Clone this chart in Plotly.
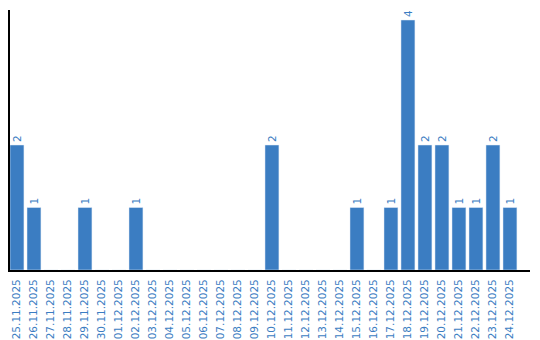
import plotly.graph_objects as go

dates = ["25.11.2025", "26.11.2025", "27.11.2025", "28.11.2025", "29.11.2025", "30.11.2025",
         "01.12.2025", "02.12.2025", "03.12.2025", "04.12.2025", "05.12.2025", "06.12.2025",
         "07.12.2025", "08.12.2025", "09.12.2025", "10.12.2025", "11.12.2025", "12.12.2025",
         "13.12.2025", "14.12.2025", "15.12.2025", "16.12.2025", "17.12.2025", "18.12.2025",
         "19.12.2025", "20.12.2025", "21.12.2025", "22.12.2025", "23.12.2025", "24.12.2025"]
counts = [2, 1, 0, 0, 1, 0, 0, 1, 0, 0, 0, 0, 0, 0, 0, 2, 0, 0, 0, 0, 1, 0, 1, 4, 2, 2, 1, 1, 2, 1]

blue = "#3b7dc2"
labels = [str(v) if v > 0 else "" for v in counts]

fig = go.Figure(go.Bar(
    x=list(range(len(dates))), y=counts, marker_color=blue,
    text=labels, textposition="outside", textangle=-90,
    textfont=dict(color=blue, size=10.5, family="DejaVu Sans"),
    cliponaxis=False,
))
fig.update_layout(
    width=540, height=340,
    margin=dict(l=10, r=10, t=10, b=70),
    plot_bgcolor="white", paper_bgcolor="white",
    bargap=0.18, showlegend=False,
    xaxis=dict(range=[-0.41, 30.18], tickmode="array", tickvals=list(range(len(dates))),
               ticktext=dates, tickangle=-90, showgrid=False, zeroline=False,
               showline=True, linecolor="black", linewidth=2, ticks="",
               automargin=False, ticklabelstandoff=3,
               tickfont=dict(color=blue, size=10.5, family="DejaVu Sans")),
    yaxis=dict(range=[0, 4.16], showticklabels=False, showgrid=False, zeroline=False,
               showline=True, linecolor="black", linewidth=2, ticks="", automargin=False),
)
fig.write_html("out.html")
